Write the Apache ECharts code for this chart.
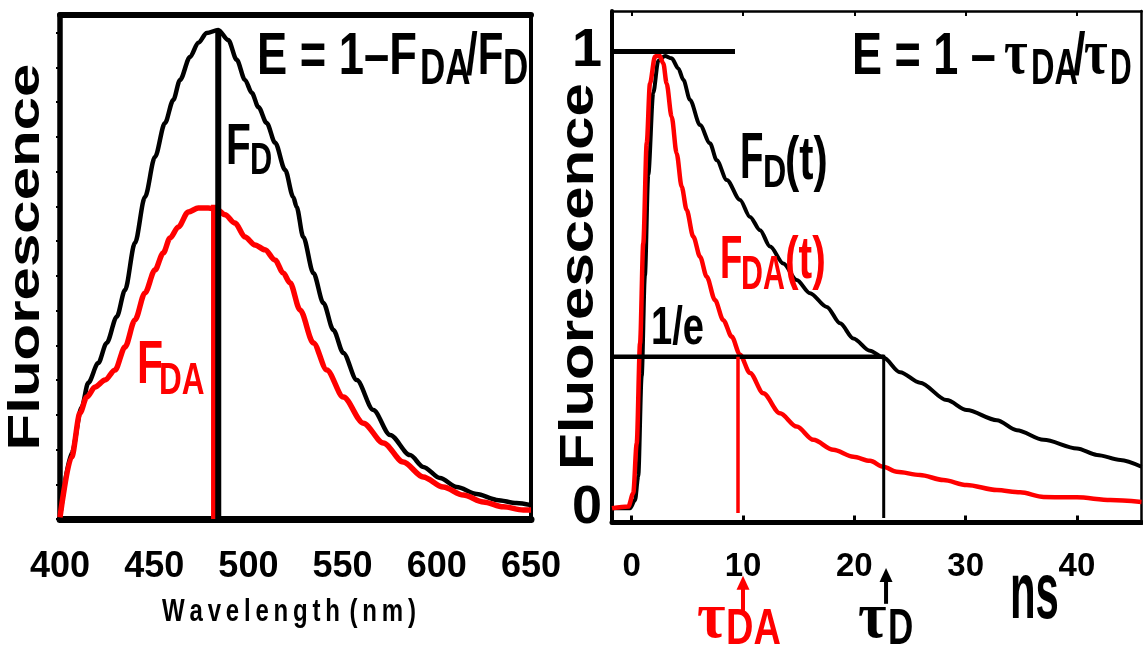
<!DOCTYPE html>
<html><head><meta charset="utf-8">
<script src="https://cdn.jsdelivr.net/npm/echarts@6/dist/echarts.min.js"></script>
<style>html,body{margin:0;padding:0;background:#fff}#c{width:1143px;height:649px}</style>
</head><body><div id="c"></div>
<script>
// ---------- LEFT PANEL: steady-state emission spectra ----------
const wavelengthD = [400, 406.2, 411.5, 415.0, 420.3, 424.8, 430.1, 434.5, 439.8, 445.1, 450.4, 455.7, 460.1, 463.7, 469.0, 473.4, 477.9, 484.0, 489.3, 493.8, 498.2, 501.8, 505.3, 509.7, 514.2, 519.5, 523.8, 525.6, 529.1, 534.5, 539.8, 545.1, 550.4, 557.5, 566.3, 575.2, 585.8, 592.8, 601.7, 610.6, 621.2, 631.8, 642.4, 650];
const fluorD = [0.05, 1.90, 3.22, 3.92, 4.49, 5.07, 5.82, 6.59, 7.95, 9.27, 10.42, 11.40, 12.06, 12.64, 13.30, 13.71, 13.99, 14.08, 13.79, 13.22, 12.64, 12.27, 11.86, 11.40, 10.83, 10.05, 9.27, 8.98, 8.12, 7.08, 6.22, 5.44, 4.78, 4.00, 3.14, 2.42, 1.84, 1.50, 1.18, 0.92, 0.72, 0.55, 0.46, 0.40];
const wavelengthDA = [400, 406.2, 410.6, 414.2, 418.6, 423.9, 429.2, 434.5, 439.8, 445.1, 450.4, 454.8, 458.4, 462.8, 468.1, 473.4, 478.7, 483.2, 487.6, 492.9, 498.2, 503.5, 508.8, 514.1, 518.5, 522.1, 527.4, 534.5, 541.6, 550.4, 561.0, 571.6, 582.2, 592.8, 603.4, 614.1, 624.7, 635.3, 645.9, 650];
const fluorDA = [0.05, 1.79, 3.05, 3.51, 3.80, 4.00, 4.29, 4.95, 5.73, 6.51, 7.17, 7.66, 8.09, 8.41, 8.84, 8.95, 8.95, 8.92, 8.76, 8.52, 8.12, 7.89, 7.75, 7.46, 7.08, 6.80, 6.02, 5.07, 4.29, 3.51, 2.76, 2.19, 1.64, 1.21, 0.92, 0.69, 0.49, 0.35, 0.26, 0.26];
const peakLineD = [[484.0, 0], [484.0, 14.08]];
const peakLineDA = [[481.5, 0], [481.5, 9.05]];
const wavelengthTicks = [400, 450, 500, 550, 600, 650];
const fluorTicks = [0,1,2,3,4,5,6,7,8,9,10,11,12,13,14];

// ---------- RIGHT PANEL: time-resolved decays ----------
const timeD = [-1.77, -0.15, 0.30, 0.59, 0.90, 1.19, 1.49, 1.94, 2.39, 2.99, 3.59, 4.19, 4.64, 5.24, 6.14, 7.03, 7.64, 8.54, 9.73, 10.63, 11.53, 12.43, 13.62, 14.82, 16.02, 17.52, 18.72, 19.91, 21.41, 22.61, 24.11, 25.9, 28.3, 30.1, 32.8, 34.6, 37.0, 40.0, 41.8, 43.9, 45.8];
const decayD = [0, 0, 0.018, 0.07, 0.29, 0.51, 0.73, 0.91, 0.98, 0.99, 0.985, 0.963, 0.938, 0.894, 0.839, 0.799, 0.762, 0.719, 0.675, 0.638, 0.609, 0.573, 0.536, 0.500, 0.471, 0.441, 0.405, 0.372, 0.345, 0.330, 0.298, 0.275, 0.237, 0.215, 0.193, 0.171, 0.150, 0.131, 0.117, 0.106, 0.091];
const timeDA = [-1.77, -0.30, 0.14, 0.45, 0.75, 1.04, 1.35, 1.64, 2.09, 2.48, 2.84, 3.14, 3.59, 4.04, 4.49, 4.94, 5.53, 6.14, 6.74, 7.48, 8.23, 8.98, 9.73, 10.63, 11.82, 13.32, 14.82, 16.32, 18.11, 19.91, 21.41, 22.61, 23.81, 25.9, 28.0, 30.1, 32.8, 34.9, 37.0, 40.0, 43.0, 45.8];
const decayDA = [0, 0.004, 0.033, 0.142, 0.361, 0.580, 0.799, 0.930, 0.989, 0.992, 0.974, 0.930, 0.857, 0.777, 0.704, 0.653, 0.595, 0.551, 0.507, 0.456, 0.412, 0.376, 0.336, 0.296, 0.252, 0.208, 0.179, 0.150, 0.128, 0.113, 0.104, 0.091, 0.080, 0.073, 0.062, 0.051, 0.040, 0.035, 0.025, 0.024, 0.018, 0.014];
const unitLine = [[-1.77, 1], [9.28, 1]];
const invELine = [[-1.77, 0.332], [22.64, 0.332]];
const tauDALine = [[9.55, 0.332], [9.55, -0.01]];
const tauDLine = [[22.64, 0.336], [22.64, -0.021]];
const tauDAArrow = [[10.0, -0.225], [10.0, -0.163]];
const tauDArrow = [[22.85, -0.209], [22.85, -0.146]];
const timeTicks = [0, 10, 20, 30, 40];
const decayTicks = [0, 1];

const SANS = "'Liberation Sans', Arial, Helvetica, sans-serif";
const SERIF = "'Liberation Serif', 'DejaVu Serif', serif";
const RED = '#ff0000';

const chart = echarts.init(document.getElementById('c'), null, {renderer: 'canvas'});
const pairs = (xs, ys) => xs.map((x, i) => [x, ys[i]]);

function lineSeries(data, xi, yi, color, width, extra) {
  return Object.assign({
    type: 'line', xAxisIndex: xi, yAxisIndex: yi, data: data, showSymbol: false, symbol: 'none',
    lineStyle: {color: color, width: width, cap: 'butt', join: 'round'}, itemStyle: {color: color},
    silent: true, animation: false, emphasis: {disabled: true}
  }, extra || {});
}
function arrowSeries(data, color) {
  return lineSeries([
    {value: data[0], symbol: 'none'},
    {value: data[1], symbol: 'triangle', symbolSize: [13, 14]}
  ], 2, 2, color, 4, {showSymbol: true, clip: false, z: 10});
}
function txt(text, x, y, size, sx, o) {
  o = o || {};
  return {type: 'text', x: x, y: y, scaleX: sx, scaleY: o.sy || 1, rotation: o.rot || 0, z: 100, silent: true,
    style: {text: text, fontSize: size, fontWeight: o.weight || 'bold', fontFamily: o.family || SANS,
      fill: o.color || '#000', align: o.align || 'left', verticalAlign: 'middle'}};
}
const TS = '\u2009';
const wavelengthName = 'Wavelength'.split('').join(TS) + TS + TS + '(' + TS + 'n' + TS + 'm' + TS + ')';

const option = {
  animation: false,
  backgroundColor: '#fff',
  grid: [
    {left: 60, top: 15, width: 471, height: 504, outerBoundsMode: 'none', containLabel: false},
    {left: 612, top: 11, width: 529.5, height: 511.5, outerBoundsMode: 'none', containLabel: false}
  ],
  xAxis: [
    {gridIndex: 0, type: 'value', min: 400, max: 650, interval: 50, position: 'bottom',
      axisLine: {onZero: false, lineStyle: {color: '#000', width: 7}},
      axisTick: {show: true, inside: false, length: 4, lineStyle: {color: '#000', width: 2}},
      axisLabel: {margin: 30, fontSize: 36, fontWeight: 'bold', fontFamily: SANS, color: '#000'},
      splitLine: {show: false}},
    {gridIndex: 0, type: 'value', min: 400, max: 650, position: 'top',
      axisLine: {onZero: false, lineStyle: {color: '#000', width: 6}},
      axisTick: {show: false}, axisLabel: {show: false}, splitLine: {show: false}},
    {gridIndex: 1, type: 'value', min: -1.77, max: 45.8, position: 'bottom',
      axisLine: {onZero: false, lineStyle: {color: '#000', width: 5}},
      axisTick: {show: true, inside: true, length: 7, customValues: timeTicks, lineStyle: {color: '#000', width: 3}},
      axisLabel: {customValues: timeTicks, margin: 28, fontSize: 33, fontWeight: 'bold', fontFamily: SANS, color: '#000'},
      splitLine: {show: false}},
    {gridIndex: 1, type: 'value', min: -1.77, max: 45.8, position: 'top',
      axisLine: {onZero: false, lineStyle: {color: '#000', width: 2.5}},
      axisTick: {show: true, inside: true, length: 5, customValues: timeTicks, lineStyle: {color: '#000', width: 2}},
      axisLabel: {show: false}, splitLine: {show: false}}
  ],
  yAxis: [
    {gridIndex: 0, type: 'value', min: 0, max: 14.51, position: 'left',
      axisLine: {onZero: false, lineStyle: {color: '#000', width: 5.5}},
      axisTick: {show: true, inside: false, length: 4, customValues: fluorTicks, lineStyle: {color: '#000', width: 2}},
      axisLabel: {show: false}, splitLine: {show: false}},
    {gridIndex: 0, type: 'value', min: 0, max: 14.51, position: 'right',
      axisLine: {onZero: false, lineStyle: {color: '#000', width: 4}},
      axisTick: {show: false}, axisLabel: {show: false}, splitLine: {show: false}},
    {gridIndex: 1, type: 'value', min: -0.031, max: 1.0887, position: 'left',
      axisLine: {onZero: false, lineStyle: {color: '#000', width: 4}},
      axisTick: {show: false},
      axisLabel: {customValues: decayTicks, margin: 10, fontSize: 54, fontWeight: 'bold', fontFamily: SANS, color: '#000'},
      splitLine: {show: false}},
    {gridIndex: 1, type: 'value', min: -0.031, max: 1.0887, position: 'right',
      axisLine: {onZero: false, lineStyle: {color: '#000', width: 2.5}},
      axisTick: {show: false}, axisLabel: {show: false}, splitLine: {show: false}}
  ],
  series: [
    lineSeries(pairs(wavelengthD, fluorD), 0, 0, '#000', 4.5, {smooth: 0.3, smoothMonotone: 'x'}),
    lineSeries(pairs(wavelengthDA, fluorDA), 0, 0, RED, 5.5, {smooth: 0.3, smoothMonotone: 'x'}),
    lineSeries(peakLineDA, 0, 0, RED, 5),
    lineSeries(peakLineD, 0, 0, '#000', 6),
    lineSeries(pairs(timeD, decayD), 2, 2, '#000', 4, {smooth: 0.3, smoothMonotone: 'x'}),
    lineSeries(pairs(timeDA, decayDA), 2, 2, RED, 4.5, {smooth: 0.3, smoothMonotone: 'x'}),
    lineSeries(unitLine, 2, 2, '#000', 5),
    lineSeries(invELine, 2, 2, '#000', 4.5),
    lineSeries(tauDALine, 2, 2, RED, 3.5),
    lineSeries(tauDLine, 2, 2, '#000', 3),
    arrowSeries(tauDAArrow, RED),
    arrowSeries(tauDArrow, '#000')
  ],
  graphic: [
    // left panel
    txt('E = 1–F', 257, 57.2, 60, 0.755),
    txt('DA', 420, 70.7, 50, 0.7),
    txt('/F', 466, 57.2, 60, 0.7),
    txt('D', 503, 70.7, 50, 0.7),
    txt('F', 226, 147.9, 58, 0.7),
    txt('D', 250, 161.8, 44, 0.7),
    txt('F', 137, 365.9, 61, 0.7, {color: RED}),
    txt('DA', 159, 381.4, 45, 0.7, {color: RED}),
    txt('Fluorescence', 27, 257, 60, 1.0, {rot: Math.PI / 2, sy: 0.745, align: 'center'}),
    txt(wavelengthName, 289, 612, 32, 0.75, {align: 'center'}),
    // right panel
    txt('E = 1 –', 852, 57.2, 60, 0.75),
    txt('τ', 1004, 56.4, 64, 0.8, {family: SERIF}),
    txt('DA', 1031, 70.7, 50, 0.65),
    txt('/', 1073, 57.2, 60, 0.75),
    txt('τ', 1084, 56.4, 64, 0.8, {family: SERIF}),
    txt('D', 1110, 70.7, 50, 0.6),
    txt('F', 740, 160.8, 64, 0.6),
    txt('D', 763, 174.1, 46, 0.7),
    txt('(t)', 785, 161.9, 61, 0.7),
    txt('F', 720, 260.9, 61, 0.6, {color: RED}),
    txt('DA', 741, 275, 49, 0.62, {color: RED}),
    txt('(t)', 785, 261.2, 60, 0.68, {color: RED}),
    txt('1/e', 651, 329.6, 53, 0.72),
    txt('ns', 1010, 596.6, 79, 0.53),
    txt('τ', 697, 620, 65, 0.95, {family: SERIF, color: RED}),
    txt('DA', 726, 630.7, 50, 0.76, {color: RED}),
    txt('τ', 858, 620, 65, 0.95, {family: SERIF}),
    txt('D', 888, 630.7, 50, 0.7),
    txt('Fluorescence', 580, 276.5, 60, 1.0, {rot: Math.PI / 2, sy: 0.79, align: 'center'})
  ]
};
chart.setOption(option);
</script>
</body></html>
